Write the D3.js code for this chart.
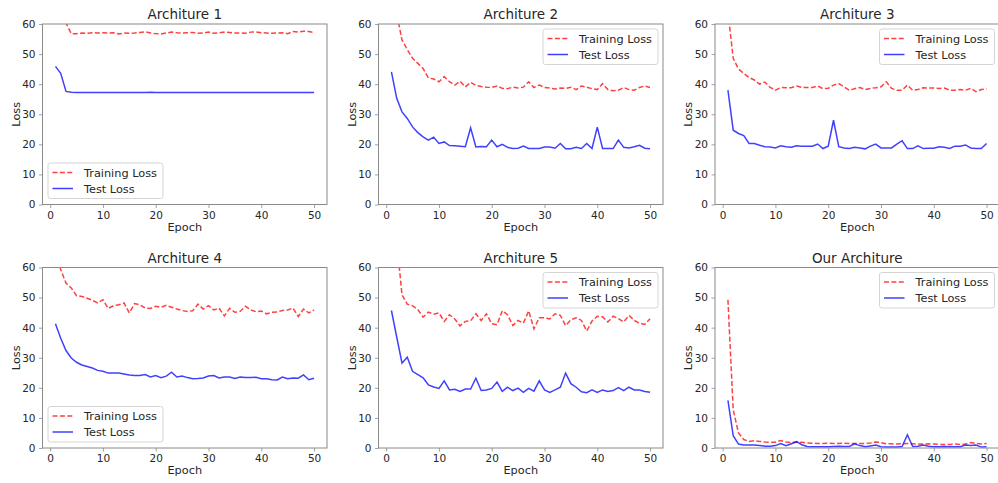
<!DOCTYPE html>
<html><head><meta charset="utf-8">
<script src="https://cdn.jsdelivr.net/npm/d3@7"></script>
<style>
html,body{margin:0;padding:0;background:#fff;}
svg{display:block;font-family:"DejaVu Sans",sans-serif;}
</style></head>
<body>
<svg id="chart" width="998" height="483"></svg>
<script>
const epochs = [1,2,3,4,5,6,7,8,9,10,11,12,13,14,15,16,17,18,19,20,21,22,23,24,25,26,27,28,29,30,31,32,33,34,35,36,37,38,39,40,41,42,43,44,45,46,47,48,49,50];
const xTicks = [0,10,20,30,40,50];
const yTicks = [0,10,20,30,40,50,60];
const titles = ["Architure 1","Architure 2","Architure 3","Architure 4","Architure 5","Our Architure"];
const legendLabels = ["Training Loss","Test Loss"];
const legendPos = ["lower left","upper right","upper right","lower left","upper right","upper right"];

const train1 = [70,64,60.3,56.8,56.8,57.0,56.9,57.1,57.0,57.1,57.0,57.1,56.7,57.0,56.9,57.0,57.2,57.4,57.0,56.8,56.7,57.0,57.3,57.1,57.0,57.1,57.2,56.9,57.0,57.3,56.9,57.1,57.3,57.2,57.0,57.0,56.9,57.3,57.4,57.1,57.0,56.9,57.0,57.1,56.8,57.5,57.3,57.6,57.5,57.2];
const test1 = [45.9,43.6,37.6,37.3,37.2,37.2,37.2,37.2,37.2,37.2,37.2,37.2,37.2,37.2,37.2,37.2,37.2,37.2,37.3,37.2,37.2,37.2,37.2,37.2,37.2,37.2,37.2,37.2,37.2,37.2,37.2,37.2,37.2,37.2,37.2,37.2,37.2,37.2,37.2,37.2,37.2,37.2,37.2,37.2,37.2,37.2,37.2,37.2,37.2,37.2];

const train2 = [80,63.5,54.7,51.5,48.6,46.9,45.2,42.1,41.7,40.8,42.5,40.8,39.7,41.0,39.1,40.6,39.6,39.2,39.0,38.9,39.4,38.6,38.5,39.0,38.7,39.0,40.8,38.9,39.7,38.9,38.7,38.4,38.7,38.6,39.0,38.2,39.4,39.0,38.5,38.2,40.2,38.2,37.8,38.0,38.9,38.2,38.0,38.9,39.4,38.9];
const test2 = [44.1,35.3,30.8,28.6,25.8,23.9,22.5,21.4,22.4,20.3,20.8,19.6,19.5,19.4,19.2,25.5,19.1,19.3,19.2,21.4,19.2,20.0,19.0,18.6,18.7,19.4,18.6,18.6,18.6,19.1,19.1,18.7,20.3,18.5,18.5,19.0,18.6,20.3,18.6,25.7,18.6,18.6,18.6,21.4,19.0,18.8,19.2,19.7,18.7,18.5];

const train3 = [64,48.6,45.0,43.6,42.2,41.4,40.0,40.7,38.9,38.0,38.9,38.8,38.8,39.4,38.9,38.9,38.9,39.4,38.5,38.6,39.7,40.2,39.1,38.0,38.5,38.9,38.2,38.6,38.8,39.1,40.8,38.6,38.0,38.0,39.7,38.0,38.2,38.8,38.7,38.7,38.6,38.7,38.0,38.0,38.2,38.0,38.6,37.5,38.2,38.5];
const test3 = [38.0,24.7,23.6,22.9,20.3,20.3,19.7,19.2,19.1,18.8,19.5,19.2,19.0,19.5,19.4,19.4,19.4,20.1,18.6,19.4,28.0,19.2,18.8,18.6,19.0,18.8,18.5,19.4,20.1,18.8,18.8,18.8,20.1,21.2,18.6,18.6,19.5,18.6,18.7,18.7,19.2,19.0,18.6,19.4,19.4,19.8,18.8,18.6,18.6,20.3];

const train4 = [65,59.3,54.8,53.2,50.6,50.4,49.8,49.1,48.2,49.3,46.4,47.3,47.6,48.2,44.9,48.0,47.6,46.5,46.4,47.1,46.8,47.4,46.8,46.2,45.7,45.4,45.6,47.8,46.2,47.3,45.9,46.5,43.9,46.4,45.1,45.4,47.1,45.9,45.3,45.5,44.6,45.1,45.2,45.7,45.9,46.5,43.7,46.2,44.9,45.9];
const test4 = [41.3,36.5,32.4,29.9,28.5,27.6,27.1,26.6,25.8,25.5,24.9,24.9,24.9,24.6,24.3,24.1,24.1,24.4,23.6,24.1,23.4,23.9,25.2,23.6,23.9,23.4,23.0,23.1,23.3,23.9,24.1,23.3,23.6,23.6,23.1,23.6,23.4,23.4,23.5,23.0,23.0,22.7,22.6,23.6,23.0,23.3,23.2,24.3,22.7,23.2];

const train5 = [85,69,50.9,47.8,47.3,46.0,43.5,45.2,44.5,44.9,42.1,44.3,42.9,40.6,42.1,42.3,44.6,42.4,44.6,41.3,41.0,45.6,44.3,40.7,42.4,41.5,45.6,39.6,43.3,43.3,42.9,44.6,44.1,40.7,42.6,43.3,42.4,38.9,42.2,43.8,43.6,41.9,43.8,43.0,41.9,44.1,42.4,41.5,41.1,43.0];
const test5 = [45.7,36.9,28.2,30.2,25.5,24.4,23.3,21.0,20.3,19.8,22.3,19.3,19.5,18.8,19.6,19.6,23.2,19.1,19.3,19.8,21.9,18.8,20.2,19.1,19.9,18.5,19.8,18.9,22.3,19.3,18.5,19.3,20.2,24.9,21.4,20.2,18.7,18.4,19.3,18.5,19.3,18.8,19.1,20.1,19.1,20.2,19.3,19.3,18.8,18.5];

const train6 = [49.3,12.7,5.0,2.8,2.2,2.4,2.2,2.0,1.9,1.9,2.5,2.0,1.8,2.0,1.9,1.7,1.6,1.5,1.5,1.6,1.5,1.5,1.6,1.5,1.5,1.5,1.5,1.7,2.0,1.8,1.4,1.4,1.3,1.4,1.5,1.4,1.3,1.3,1.4,1.3,1.2,1.2,1.2,1.3,1.2,1.3,1.8,1.5,1.3,1.5];
const test6 = [15.8,4.1,1.3,1.0,1.0,1.0,0.8,0.6,0.6,0.8,1.5,0.8,1.4,2.1,1.1,0.5,0.4,0.4,0.4,0.4,0.5,0.6,0.5,0.5,1.4,0.8,0.4,0.7,1.0,0.4,0.3,0.3,0.3,0.5,4.4,0.5,0.6,1.0,0.6,0.4,0.4,0.5,0.4,0.4,0.4,1.0,0.8,1.0,0.3,0.4];

const trainSeries = [train1,train2,train3,train4,train5,train6];
const testSeries = [test1,test2,test3,test4,test5,test6];

const svg = d3.select("#chart");
const colLeft = [42.5, 378.5, 715];
const rowTop = [24, 267.5];
const W = 284.5, H = 180.5;
const spineColor = "#8a8a8a";
const textColor = "#262626";
const trainColor = "rgba(255,0,0,0.75)";
const testColor = "rgba(0,0,255,0.75)";

const x = d3.scaleLinear().domain([-1.45, 52.45]).range([0, W]);
const y = d3.scaleLinear().domain([0, 60]).range([H, 0]);

const defs = svg.append("defs");
defs.append("clipPath").attr("id","plotclip").append("rect")
  .attr("x",0).attr("y",0).attr("width",W).attr("height",H);

titles.forEach((title, i) => {
  const col = i % 3, row = Math.floor(i / 3);
  const g = svg.append("g").attr("transform", `translate(${colLeft[col]},${rowTop[row]})`);

  const line = d3.line().x((d,k) => x(epochs[k])).y(d => y(d));
  const plot = g.append("g").attr("clip-path","url(#plotclip)");
  plot.append("path").datum(trainSeries[i])
    .attr("d", line).attr("fill","none").attr("stroke",trainColor)
    .attr("stroke-width",1.5).attr("stroke-dasharray","5,2.4");
  plot.append("path").datum(testSeries[i])
    .attr("d", line).attr("fill","none").attr("stroke",testColor)
    .attr("stroke-width",1.5);

  const xa = g.append("g").attr("transform",`translate(0,${H})`)
    .call(d3.axisBottom(x).tickValues(xTicks).tickSize(3.5).tickPadding(3.5).tickFormat(d3.format("d")));
  const ya = g.append("g")
    .call(d3.axisLeft(y).tickValues(yTicks).tickSize(3.5).tickPadding(3.5).tickFormat(d3.format("d")));
  [xa, ya].forEach(a => {
    a.select(".domain").remove();
    a.selectAll(".tick line").attr("stroke", spineColor).attr("stroke-width",0.8);
    a.selectAll(".tick text").attr("fill", textColor)
      .style("font-family","DejaVu Sans").style("font-size","10.5px");
  });

  g.append("rect").attr("x",0).attr("y",0).attr("width",W).attr("height",H)
    .attr("fill","none").attr("stroke",spineColor).attr("stroke-width",1);

  g.append("text").attr("x", W/2).attr("y", -5).attr("text-anchor","middle")
    .attr("fill", textColor).style("font-size","13.5px").text(title);
  g.append("text").attr("x", W/2).attr("y", H + 26).attr("text-anchor","middle")
    .attr("fill", textColor).style("font-size","11.3px").text("Epoch");
  g.append("text").attr("transform", `translate(-23,${H/2}) rotate(-90)`)
    .attr("text-anchor","middle").attr("fill", textColor)
    .style("font-size","11.3px").text("Loss");

  const lw = 115, lh = 35.5;
  let lx, ly;
  if (legendPos[i] === "lower left") { lx = 5.5; ly = H - 6 - lh; }
  else { lx = W - 5 - lw; ly = 5; }
  const lg = g.append("g").attr("transform", `translate(${lx},${ly})`);
  lg.append("rect").attr("width",lw).attr("height",lh).attr("rx",2.5)
    .attr("fill","rgba(255,255,255,0.8)").attr("stroke","#d5d5d5").attr("stroke-width",1);
  const colors = [trainColor, testColor];
  const dashes = ["5,2.4", null];
  legendLabels.forEach((lab, k) => {
    const cy = 9.5 + k * 16;
    lg.append("line").attr("x1",4.5).attr("x2",25).attr("y1",cy).attr("y2",cy)
      .attr("stroke",colors[k]).attr("stroke-width",1.5)
      .attr("stroke-dasharray", dashes[k]);
    lg.append("text").attr("x",36).attr("y",cy + 4).attr("fill",textColor)
      .style("font-size","11.3px").text(lab);
  });
});
</script>
</body></html>
